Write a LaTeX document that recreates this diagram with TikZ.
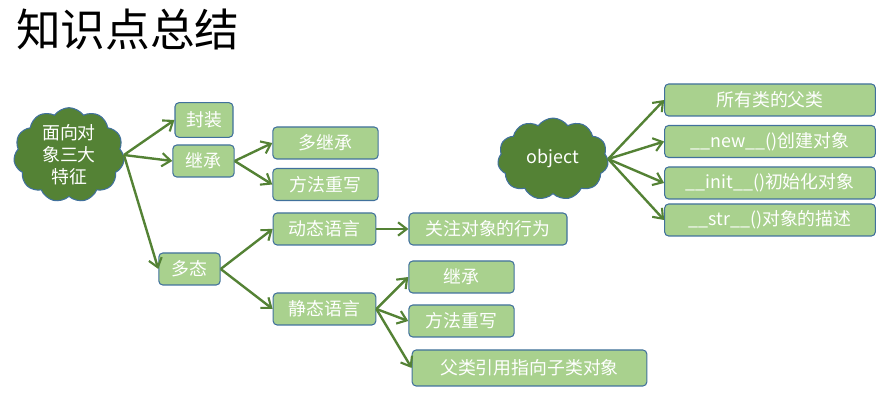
\documentclass[tikz,border=0pt]{standalone}
\usepackage{fontspec}
\setmainfont{Noto Sans CJK SC}
\usepackage{tikz}
\usetikzlibrary{arrows.meta,positioning,shapes.symbols}
\definecolor{boxfill}{RGB}{169,209,142}
\definecolor{boxline}{RGB}{65,113,156}
\definecolor{cloudfill}{RGB}{84,130,53}
\definecolor{arrowgreen}{RGB}{84,130,53}

\begin{document}
\begin{tikzpicture}[
  x=0.75pt, y=-0.75pt,
  font=\fontsize{13.4}{15}\selectfont,
  box/.style={draw=boxline, line width=0.8pt, fill=boxfill, rounded corners=3pt,
              text=white, inner sep=0pt, minimum height=24pt},
  idea/.style={cloud, cloud puffs=11, cloud puff arc=110, draw=boxline, line width=0.8pt,
               fill=cloudfill, text=white, align=center, inner sep=0pt,
               minimum width=83pt, minimum height=56pt},
  arr/.style={draw=arrowgreen, line width=1.8pt,
              -{Straight Barb[length=6.5pt,width=10pt,line width=1.6pt]}},
]
\useasboundingbox (0,0) rectangle (893,409);
\node[anchor=west, inner sep=0pt, font=\fontsize{33.5}{36}\selectfont] (title) at (16,29) {知识点总结};

% three features of OOP
\node[idea, font=\fontsize{13.4}{16.5}\selectfont] (feat) at (69,155) {面向对\\象三大\\特征};
\node[box, minimum width=43.5pt, minimum height=26pt] (enc) at (204,120) {封装};
\node[box, minimum width=46pt] (inh) at (203.5,161) {继承};
\node[box, minimum width=46pt] (poly) at (189.5,269) {多态};
\node[box, minimum width=79pt] (multi) at (325.5,143) {多继承};
\node[box, minimum width=79pt] (over) at (325.5,184.5) {方法重写};
\node[box, minimum width=77pt] (dyn) at (324.5,229) {动态语言};
\node[box, minimum width=118.5pt] (behav) at (488,229) {关注对象的行为};
\node[box, minimum width=77pt] (stat) at (324.5,309) {静态语言};
\node[box, minimum width=79pt] (sinh) at (461.5,277) {继承};
\node[box, minimum width=79pt] (sover) at (461.5,321) {方法重写};
\node[box, minimum width=176pt, minimum height=27pt] (pref) at (529.5,368) {父类引用指向子类对象};

% object
\node[idea] (obj) at (553,159) {object};
\node[box, minimum width=158pt] (base) at (770,100) {所有类的父类};
\node[box, minimum width=158pt] (new) at (770,141.5) {\_\_new\_\_()创建对象};
\node[box, minimum width=158pt] (init) at (770,183) {\_\_init\_\_()初始化对象};
\node[box, minimum width=158pt] (str) at (770,220) {\_\_str\_\_()对象的描述};

\draw[arr] (feat.east) -- (enc.west);
\draw[arr] (feat.east) -- (inh.west);
\draw[arr] (feat.east) -- (poly.west);
\draw[arr] (inh.east) -- (multi.west);
\draw[arr] (inh.east) -- (over.west);
\draw[arr] (poly.east) -- (dyn.west);
\draw[arr] (poly.east) -- (stat.west);
\draw[arr] (dyn.east) -- (behav.west);
\draw[arr] (stat.east) -- (sinh.west);
\draw[arr] (stat.east) -- (sover.west);
\draw[arr] (stat.east) -- (pref.west);
\draw[arr] (obj.east) -- (base.west);
\draw[arr] (obj.east) -- (new.west);
\draw[arr] (obj.east) -- (init.west);
\draw[arr] (obj.east) -- (str.west);
\end{tikzpicture}
\end{document}
